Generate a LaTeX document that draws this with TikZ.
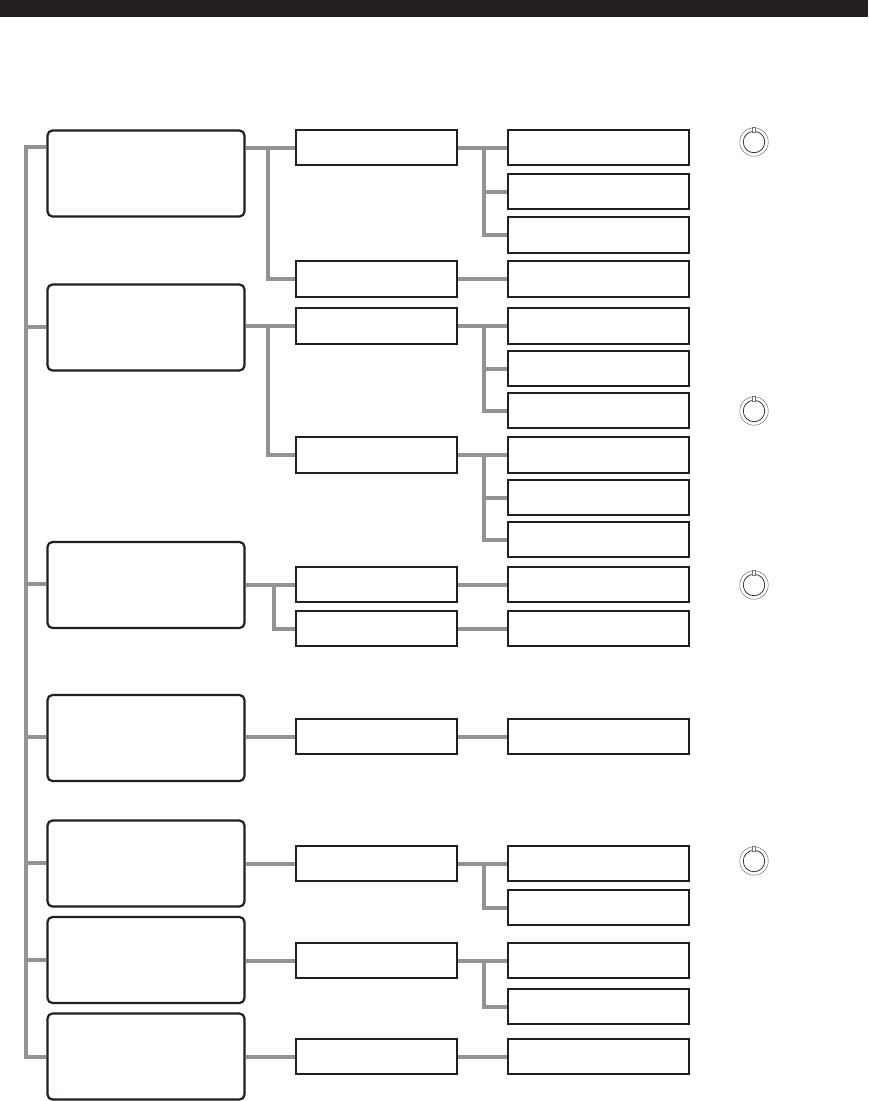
\documentclass[tikz,border=0pt]{standalone}
\definecolor{boxblack}{HTML}{231F20}
\definecolor{linkgray}{HTML}{939393}
\begin{document}
\begin{tikzpicture}[
    x=1pt, y=-1pt,
    group/.style={rectangle, rounded corners=5pt, draw=boxblack, fill=white,
        minimum width=197pt, minimum height=86pt, inner sep=0pt, line width=2.2pt},
    middlebox/.style={rectangle, draw=boxblack, fill=white,
        minimum width=160.5pt, minimum height=35.5pt, inner sep=0pt, line width=2.2pt},
    rightbox/.style={rectangle, draw=boxblack, fill=white,
        minimum width=180.5pt, minimum height=35.5pt, inner sep=0pt, line width=2.2pt},
    knob/.style={circle, draw=black!55, fill=white,
        minimum size=28.5pt, inner sep=0pt, line width=0.5pt},
    knobcap/.style={circle, draw=boxblack, fill=white,
        minimum size=21.5pt, inner sep=0pt, line width=0.7pt},
    knobmark/.style={rectangle, draw=black!55, fill=white,
        minimum width=3pt, minimum height=5pt, inner sep=0pt, line width=0.4pt},
    link/.style={line width=4pt, draw=linkgray},
]
\useasboundingbox (0,0) rectangle (868,1101);
  % header bar
  \fill[boxblack] (0,0) rectangle (868,17);
  \coordinate (trunk_top) at (26,147);
  \coordinate (trunk_2) at (26,327);
  \coordinate (trunk_3) at (26,584);
  \coordinate (trunk_4) at (26,737);
  \coordinate (trunk_5) at (26,863);
  \coordinate (trunk_6) at (26,960);
  \coordinate (trunk_end) at (26,1056.5);
  \coordinate (fork_left_1) at (268,147.5);
  \coordinate (fork_left_2) at (268,326);
  \coordinate (fork_left_3) at (274,584.5);
  \coordinate (fork_mid_1) at (484,147.5);
  \coordinate (fork_mid_3) at (484,326);
  \coordinate (fork_mid_4) at (484,455);
  \coordinate (fork_mid_8) at (484,863.5);
  \coordinate (fork_mid_9) at (484,960.5);
  % left column
  \node[group] (group_1) at (146,173.5) {};
  \node[group] (group_2) at (146,327.5) {};
  \node[group] (group_3) at (146,585) {};
  \node[group] (group_4) at (146,738) {};
  \node[group] (group_5) at (146,863.5) {};
  \node[group] (group_6) at (146,960) {};
  \node[group] (group_7) at (146,1056.5) {};
  % middle column
  \node[middlebox] (mid_1) at (376.5,147.5) {};
  \node[middlebox] (mid_2) at (376.5,279) {};
  \node[middlebox] (mid_3) at (376.5,326) {};
  \node[middlebox] (mid_4) at (376.5,455) {};
  \node[middlebox] (mid_5) at (376.5,584.5) {};
  \node[middlebox] (mid_6) at (376.5,628.5) {};
  \node[middlebox] (mid_7) at (376.5,736.5) {};
  \node[middlebox] (mid_8) at (376.5,863.5) {};
  \node[middlebox] (mid_9) at (376.5,960.5) {};
  \node[middlebox] (mid_10) at (376.5,1056.5) {};
  % right column
  \node[rightbox] (right_1) at (598.5,147.5) {};
  \node[rightbox] (right_2) at (598.5,191.5) {};
  \node[rightbox] (right_3) at (598.5,235) {};
  \node[rightbox] (right_4) at (598.5,279) {};
  \node[rightbox] (right_5) at (598.5,326) {};
  \node[rightbox] (right_6) at (598.5,368.5) {};
  \node[rightbox] (right_7) at (598.5,410.5) {};
  \node[rightbox] (right_8) at (598.5,455) {};
  \node[rightbox] (right_9) at (598.5,497.5) {};
  \node[rightbox] (right_10) at (598.5,539.5) {};
  \node[rightbox] (right_11) at (598.5,584.5) {};
  \node[rightbox] (right_12) at (598.5,628.5) {};
  \node[rightbox] (right_13) at (598.5,736.5) {};
  \node[rightbox] (right_14) at (598.5,863.5) {};
  \node[rightbox] (right_15) at (598.5,907.5) {};
  \node[rightbox] (right_16) at (598.5,960.5) {};
  \node[rightbox] (right_17) at (598.5,1006.5) {};
  \node[rightbox] (right_18) at (598.5,1056.5) {};
  % knobs
  \node[knob] (knob_1) at (754,142) {};
  \node[knobcap] at (knob_1) {};
  \node[knobmark] at (754,129.5) {};
  \node[knob] (knob_2) at (754,411) {};
  \node[knobcap] at (knob_2) {};
  \node[knobmark] at (754,398.5) {};
  \node[knob] (knob_3) at (754,585) {};
  \node[knobcap] at (knob_3) {};
  \node[knobmark] at (754,572.5) {};
  \node[knob] (knob_4) at (754,861) {};
  \node[knobcap] at (knob_4) {};
  \node[knobmark] at (754,848.5) {};
  % trunk and its branches
  \draw[link] (group_1.west |- trunk_top) -- (trunk_top) -- (trunk_end) -- (group_7.west |- trunk_end);
  \draw[link] (trunk_2) -- (group_2.west |- trunk_2);
  \draw[link] (trunk_3) -- (group_3.west |- trunk_3);
  \draw[link] (trunk_4) -- (group_4.west |- trunk_4);
  \draw[link] (trunk_5) -- (group_5.west |- trunk_5);
  \draw[link] (trunk_6) -- (group_6.west |- trunk_6);
  % left column to middle column
  \draw[link] (group_1.east |- mid_1) -- (mid_1.west);
  \draw[link] (fork_left_1) |- (mid_2.west);
  \draw[link] (group_2.east |- mid_3) -- (mid_3.west);
  \draw[link] (fork_left_2) |- (mid_4.west);
  \draw[link] (group_3.east |- mid_5) -- (mid_5.west);
  \draw[link] (fork_left_3) |- (mid_6.west);
  \draw[link] (group_4.east |- mid_7) -- (mid_7.west);
  \draw[link] (group_5.east |- mid_8) -- (mid_8.west);
  \draw[link] (group_6.east |- mid_9) -- (mid_9.west);
  \draw[link] (group_7.east |- mid_10) -- (mid_10.west);
  % middle column to right column
  \draw[link] (mid_1.east) -- (right_1.west);
  \draw[link] (fork_mid_1) |- (right_2.west);
  \draw[link] (fork_mid_1) |- (right_3.west);
  \draw[link] (mid_2.east) -- (right_4.west);
  \draw[link] (mid_3.east) -- (right_5.west);
  \draw[link] (fork_mid_3) |- (right_6.west);
  \draw[link] (fork_mid_3) |- (right_7.west);
  \draw[link] (mid_4.east) -- (right_8.west);
  \draw[link] (fork_mid_4) |- (right_9.west);
  \draw[link] (fork_mid_4) |- (right_10.west);
  \draw[link] (mid_5.east) -- (right_11.west);
  \draw[link] (mid_6.east) -- (right_12.west);
  \draw[link] (mid_7.east) -- (right_13.west);
  \draw[link] (mid_8.east) -- (right_14.west);
  \draw[link] (fork_mid_8) |- (right_15.west);
  \draw[link] (mid_9.east) -- (right_16.west);
  \draw[link] (fork_mid_9) |- (right_17.west);
  \draw[link] (mid_10.east) -- (right_18.west);
\end{tikzpicture}
\end{document}
